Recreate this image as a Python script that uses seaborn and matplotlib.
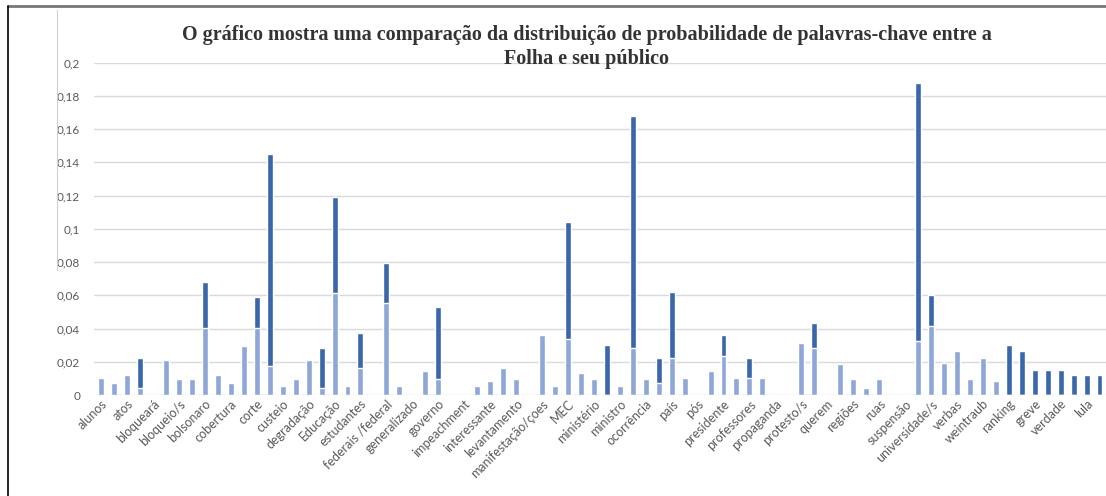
import numpy as np
import pandas as pd
import seaborn as sns
import matplotlib
matplotlib.use("Agg")
import matplotlib.pyplot as plt
from matplotlib.lines import Line2D

# Visible category labels (Excel shows every other category)
labels = ["alunos", "atos", "bloqueará", "bloqueio/s", "bolsonaro", "cobertura", "corte",
          "custeio", "degradação", "Educação", "estudantes", "federais /federal",
          "generalizado", "governo", "impeachment", "interessante", "levantamento",
          "manifestação/çoes", "MEC", "ministério", "ministro", "ocorrência", "país",
          "pós", "presidente", "professores", "propaganda", "protesto/s", "querem",
          "regiões", "ruas", "suspensão", "universidade/s", "verbas", "weintraub",
          "ranking", "greve", "verdade", "lula"]

# Light (bottom) segment per bar
folha = [0.010, 0.0072, 0.0118, 0.004, 0.0, 0.021, 0.0098, 0.0098, 0.0403, 0.0118,
         0.0072, 0.0293, 0.0403, 0.0177, 0.0052, 0.0098, 0.021, 0.004, 0.0614, 0.0052,
         0.0162, 0.0, 0.0554, 0.0052, 0.0, 0.0144, 0.0098, 0.0, 0.0, 0.0054,
         0.0086, 0.0164, 0.0098, 0.0, 0.0359, 0.0054, 0.0339, 0.013, 0.0098, 0.0,
         0.0054, 0.0281, 0.0098, 0.0072, 0.0223, 0.010, 0.0, 0.0144, 0.0235, 0.010,
         0.010, 0.010, 0.0, 0.0, 0.0313, 0.0281, 0.0, 0.0189, 0.0098, 0.004,
         0.0098, 0.0, 0.0, 0.0325, 0.0415, 0.019, 0.0267, 0.0098, 0.0223, 0.0084,
         0.0, 0.0, 0.0, 0.0, 0.0, 0.0, 0.0, 0.0]

# Dark (top) segment per bar
publico = [0.0, 0.0, 0.0, 0.0183, 0.0, 0.0, 0.0, 0.0, 0.0275, 0.0,
           0.0, 0.0, 0.0185, 0.1273, 0.0, 0.0, 0.0, 0.0241, 0.0577, 0.0,
           0.0209, 0.0, 0.024, 0.0, 0.0, 0.0, 0.0430, 0.0, 0.0, 0.0,
           0.0, 0.0, 0.0, 0.0, 0.0, 0.0, 0.0702, 0.0, 0.0, 0.0299,
           0.0, 0.1398, 0.0, 0.0151, 0.0397, 0.0, 0.0, 0.0, 0.0124, 0.0,
           0.0123, 0.0, 0.0, 0.0, 0.0, 0.015, 0.0, 0.0, 0.0, 0.0,
           0.0, 0.0, 0.0, 0.155, 0.0185, 0.0, 0.0, 0.0, 0.0, 0.0,
           0.0299, 0.0267, 0.015, 0.015, 0.015, 0.0118, 0.0118, 0.0118]

n = len(folha)
df = pd.DataFrame({
    "pos": [str(i) for i in range(n)],
    "folha": folha,
    "total": np.array(folha) + np.array(publico),
})

sns.set_theme(style="white")
plt.rcParams["font.family"] = ["Lato", "DejaVu Sans"]

fig = plt.figure(figsize=(11.06, 4.96), dpi=100)
ax = fig.add_axes([94 / 1106, 101 / 496, 1012 / 1106, 332.4 / 496])

order = [str(i) for i in range(n)]
sns.barplot(data=df, x="pos", y="total", order=order, color="#3A66AA",
            saturation=1, width=0.46, ax=ax, errorbar=None)
sns.barplot(data=df, x="pos", y="folha", order=order, color="#8FA7D6",
            saturation=1, width=0.46, ax=ax, errorbar=None)

ax.set_xlim(-0.55, n - 0.5)
ax.set_ylim(0, 0.2)
yt = np.arange(0, 0.2001, 0.02)
ax.set_yticks(yt)
ax.set_yticklabels(["0" if v == 0 else ("%g" % round(v, 2)).replace(".", ",") for v in yt],
                   fontsize=8.5, color="#595959")
ax.yaxis.grid(True, color="#D9D9D9", linewidth=1)
ax.set_axisbelow(True)
ax.tick_params(axis="y", length=0, pad=10)
ax.tick_params(axis="x", length=0, pad=2)

ax.set_xticks(range(0, n, 2))
ax.set_xticklabels(labels, rotation=45, ha="right", rotation_mode="anchor",
                   fontsize=9, color="#595959")
ax.set_xlabel("")
ax.set_ylabel("")
for s in ax.spines.values():
    s.set_visible(False)

fig.text(587 / 1106, 1 - 35 / 496,
         "O gráfico mostra uma comparação da distribuição de probabilidade de palavras-chave entre a",
         ha="center", va="center", fontsize=14.5, fontweight="bold",
         family="Liberation Serif", color="#333333")
fig.text(587 / 1106, 1 - 59 / 496, "Folha e seu público",
         ha="center", va="center", fontsize=14.5, fontweight="bold",
         family="Liberation Serif", color="#333333")

# screenshot frame lines
fig.add_artist(Line2D([8 / 1106, 1], [1 - 6 / 496, 1 - 6 / 496], color="#777777", lw=2,
                      transform=fig.transFigure))
fig.add_artist(Line2D([8 / 1106, 8 / 1106], [0, 1 - 6 / 496], color="black", lw=1.2,
                      transform=fig.transFigure))
fig.add_artist(Line2D([57 / 1106, 57 / 1106], [1 - 270 / 496, 1 - 10 / 496], color="#D0D0D0",
                      lw=0.8, transform=fig.transFigure))

fig.savefig("out.png", dpi=100)
